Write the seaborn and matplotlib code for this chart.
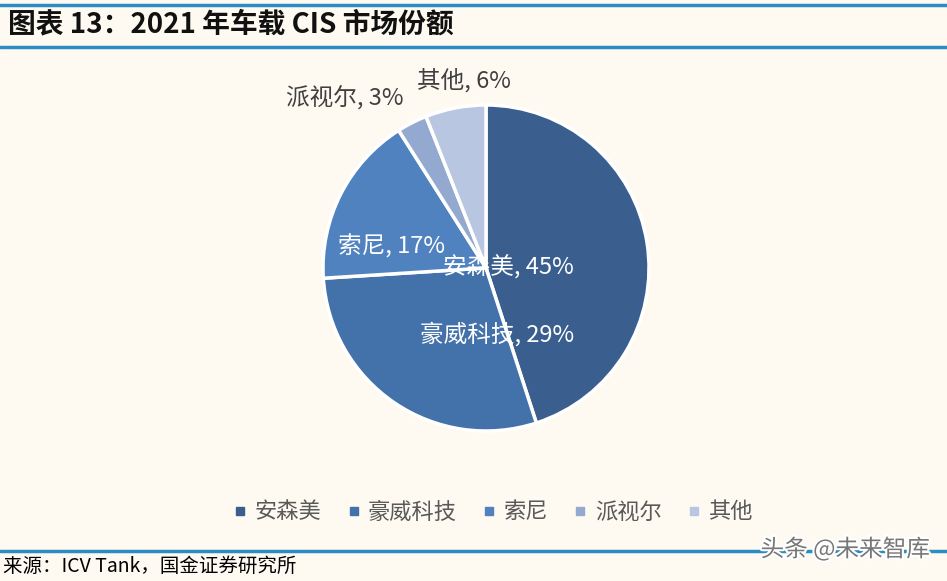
# 2021 年车载 CIS 市场份额 - 饼图复刻

import matplotlib
matplotlib.use("Agg")
import matplotlib.pyplot as plt
import matplotlib.patheffects as pe
from matplotlib.lines import Line2D
import seaborn as sns

# 数据
empresas = ["安森美", "豪威科技", "索尼", "派视尔", "其他"]
cuotas = [45, 29, 17, 3, 6]
colores = ["#3A5F8F", "#4371A9", "#4F82BE", "#93A9CF", "#B9C6E1"]

# posiciones de etiquetas (coordenadas del eje, radio = 1)
pos_etiquetas = [(0.135, 0.012), (0.067, -0.405), (-0.577, 0.135), (-0.865, 1.043), (-0.135, 1.153)]
color_texto = ["white", "white", "white", "#404040", "#404040"]

sns.set_theme(style="white")
plt.rcParams["font.family"] = ["Noto Sans CJK SC", "DejaVu Sans"]

fondo = "#FEFAF1"
W, H = 947, 581
fig = plt.figure(figsize=(W / 100, H / 100), dpi=100, facecolor=fondo)

cx, cy, r = 486, 268, 163
ax = fig.add_axes([(cx - r) / W, (H - cy - r) / H, 2 * r / W, 2 * r / H])
ax.set_facecolor(fondo)
ax.pie(
    cuotas,
    colors=colores,
    startangle=90,
    counterclock=False,
    radius=1,
    wedgeprops={"edgecolor": "white", "linewidth": 2.5},
)
ax.set_xlim(-1, 1)
ax.set_ylim(-1, 1)
ax.set_aspect("equal")
ax.axis("off")

for nombre, v, (x, y), c in zip(empresas, cuotas, pos_etiquetas, color_texto):
    ax.text(x, y, f"{nombre}, {v}%", ha="center", va="center", fontsize=17, color=c)

# leyenda
handles = [
    Line2D([], [], marker="s", linestyle="", markersize=6, color=c) for c in colores
]
fig.legend(
    handles,
    empresas,
    loc="center",
    bbox_to_anchor=(492 / W, 1 - 512 / H),
    ncol=5,
    frameon=False,
    fontsize=16,
    labelcolor="#595959",
    handlelength=0.8,
    handletextpad=0.25,
    columnspacing=1.05,
)

# título y líneas
azul = "#2C8CC4"
for yy in (5, 47, 551):
    fig.add_artist(Line2D([0, 1], [1 - yy / H] * 2, color=azul, linewidth=2.5))
fig.text(8 / W, 1 - 24 / H, "图表 13：2021 年车载 CIS 市场份额", fontsize=20,
         fontweight="bold", ha="left", va="center", color="#111111")

fig.text(3 / W, 1 - 566 / H, "来源：ICV Tank，国金证券研究所", fontsize=14,
         ha="left", va="center", color="black")

fig.text(930 / W, 1 - 549 / H, "头条 @未来智库", fontsize=17, ha="right", va="center",
         color="#777777",
         path_effects=[pe.withStroke(linewidth=3, foreground="white")])

fig.savefig("out.png", dpi=100, facecolor=fondo)
